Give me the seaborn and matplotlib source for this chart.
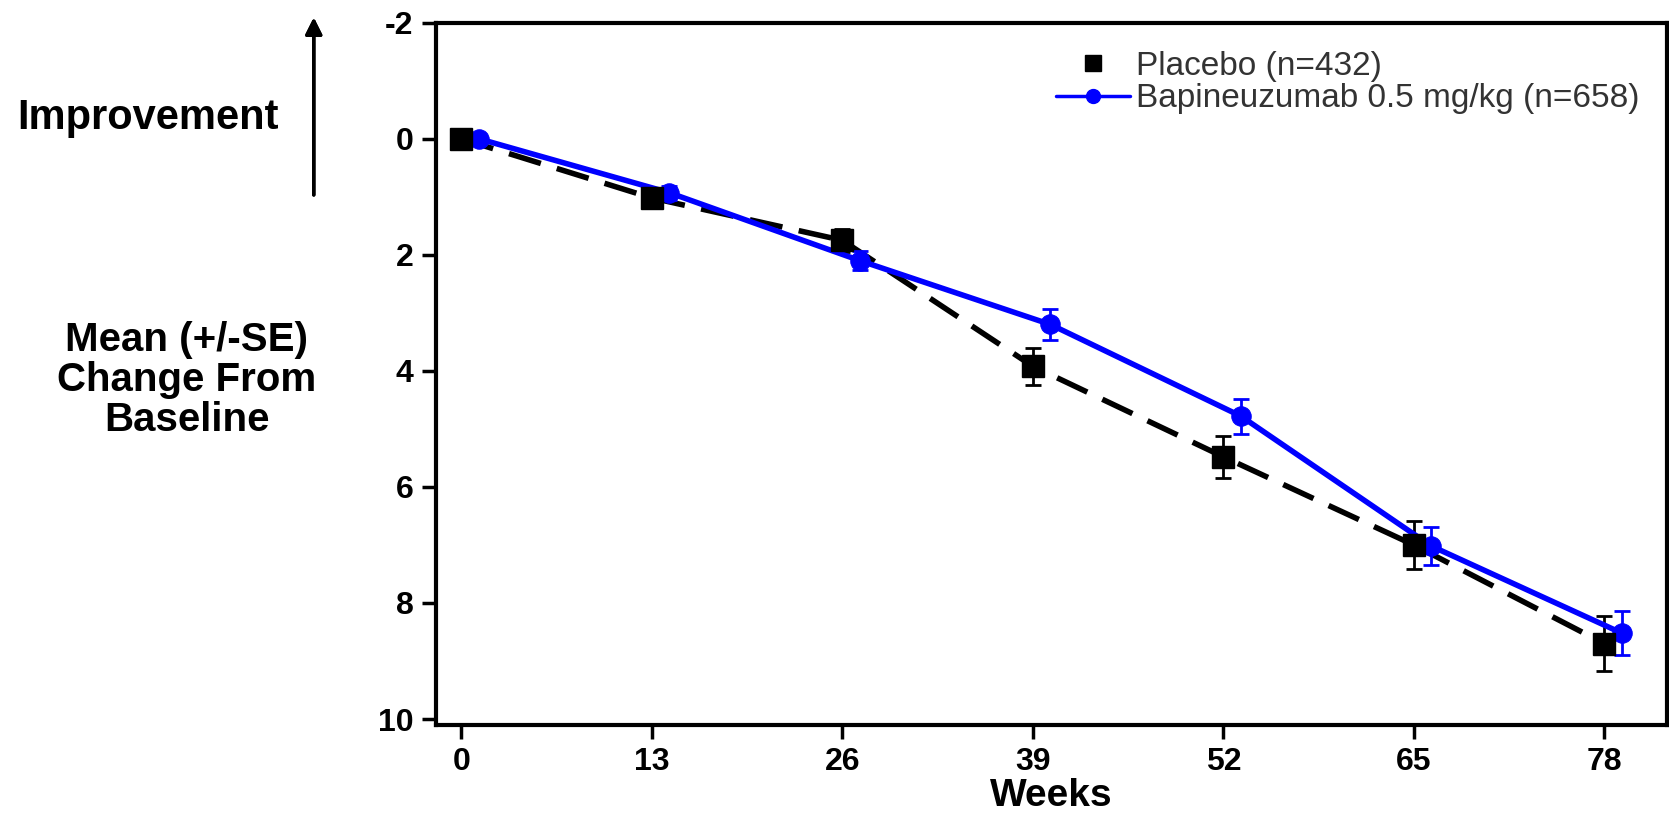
import numpy as np
import pandas as pd
import matplotlib
matplotlib.use('Agg')
import matplotlib.pyplot as plt
from matplotlib.lines import Line2D
import seaborn as sns

weeks = [0, 13, 26, 39, 52, 65, 78]
placebo_mean = [0.0, 1.02, 1.75, 3.92, 5.48, 7.0, 8.7]
placebo_se = [0.05, 0.15, 0.2, 0.32, 0.36, 0.42, 0.47]
bapi_mean = [0.0, 0.93, 2.1, 3.2, 4.78, 7.02, 8.52]
bapi_se = [0.05, 0.12, 0.17, 0.26, 0.3, 0.33, 0.38]
bapi_shift = 1.2  # blue points sit slightly right of the placebo ones

sns.set_style('ticks', {'axes.edgecolor': 'black', 'xtick.color': 'black',
                        'ytick.color': 'black', 'text.color': 'black'})
plt.rcParams['font.family'] = ['Liberation Sans', 'DejaVu Sans']
plt.rcParams['axes.unicode_minus'] = False

df = pd.DataFrame({'week': weeks, 'placebo': placebo_mean, 'bapi': bapi_mean})
df['week_b'] = df['week'] + bapi_shift

BLUE = '#0000ff'

fig = plt.figure(figsize=(16.69, 8.17), dpi=100)
ax = fig.add_axes([0.261, 0.1128, 0.738, 0.8594])

# placebo: dashed line, square markers with SE bars
sns.lineplot(data=df, x='week', y='placebo', ax=ax, color='black', lw=4,
             linestyle=(0, (6, 3)), legend=False)
ax.errorbar(df['week'], df['placebo'], yerr=placebo_se, fmt='s', color='black',
            ms=16, capsize=6, elinewidth=2, capthick=2)

# bapineuzumab: solid blue with circles
ax.errorbar(df['week_b'], df['bapi'], yerr=bapi_se, fmt='none', ecolor=BLUE,
            capsize=6, elinewidth=2, capthick=2)
sns.lineplot(data=df, x='week_b', y='bapi', ax=ax, color=BLUE, lw=4,
             marker='o', ms=14, markeredgecolor=BLUE, legend=False)

ax.set_xlim(-1.75, 82.3)
ax.set_ylim(10.1, -2)
ax.set_xticks(weeks)
ax.set_yticks([-2, 0, 2, 4, 6, 8, 10])
ax.tick_params(labelsize=23, width=2.5, length=10, pad=6, colors='black')
for t in ax.get_xticklabels() + ax.get_yticklabels():
    t.set_fontweight('bold')
ax.set_xlabel('Weeks', fontsize=28, fontweight='bold', labelpad=1, color='black')
ax.set_ylabel('')
for s in ax.spines.values():
    s.set_linewidth(3)
    s.set_color('black')
    s.set_visible(True)

handles = [Line2D([], [], ls='none', marker='s', ms=12, color='black'),
           Line2D([], [], color=BLUE, lw=2.5, marker='o', ms=10)]
labels = ['Placebo (n=432)', 'Bapineuzumab 0.5 mg/kg (n=658)']
leg = fig.legend(handles, labels, loc='upper left', bbox_to_anchor=(0.633, 0.938),
                 frameon=False, fontsize=24, handlelength=2.2, handletextpad=0.2,
                 labelspacing=0.05, borderpad=0, borderaxespad=0)
for txt in leg.get_texts():
    txt.set_color('#333333')

fig.text(0.0887, 0.856, 'Improvement', fontsize=30, fontweight='bold',
         ha='center', va='center', color='black')
fig.text(0.112, 0.535, 'Mean (+/-SE)\nChange From\nBaseline', fontsize=29,
         fontweight='bold', ha='center', va='center', linespacing=1.08,
         color='black')
fig.add_artist(plt.annotate('', xy=(0.188, 0.982), xytext=(0.188, 0.758),
                            xycoords='figure fraction',
                            arrowprops=dict(arrowstyle='-|>', color='black',
                                            lw=2.5, mutation_scale=25)))

fig.savefig('out.png', dpi=100)
